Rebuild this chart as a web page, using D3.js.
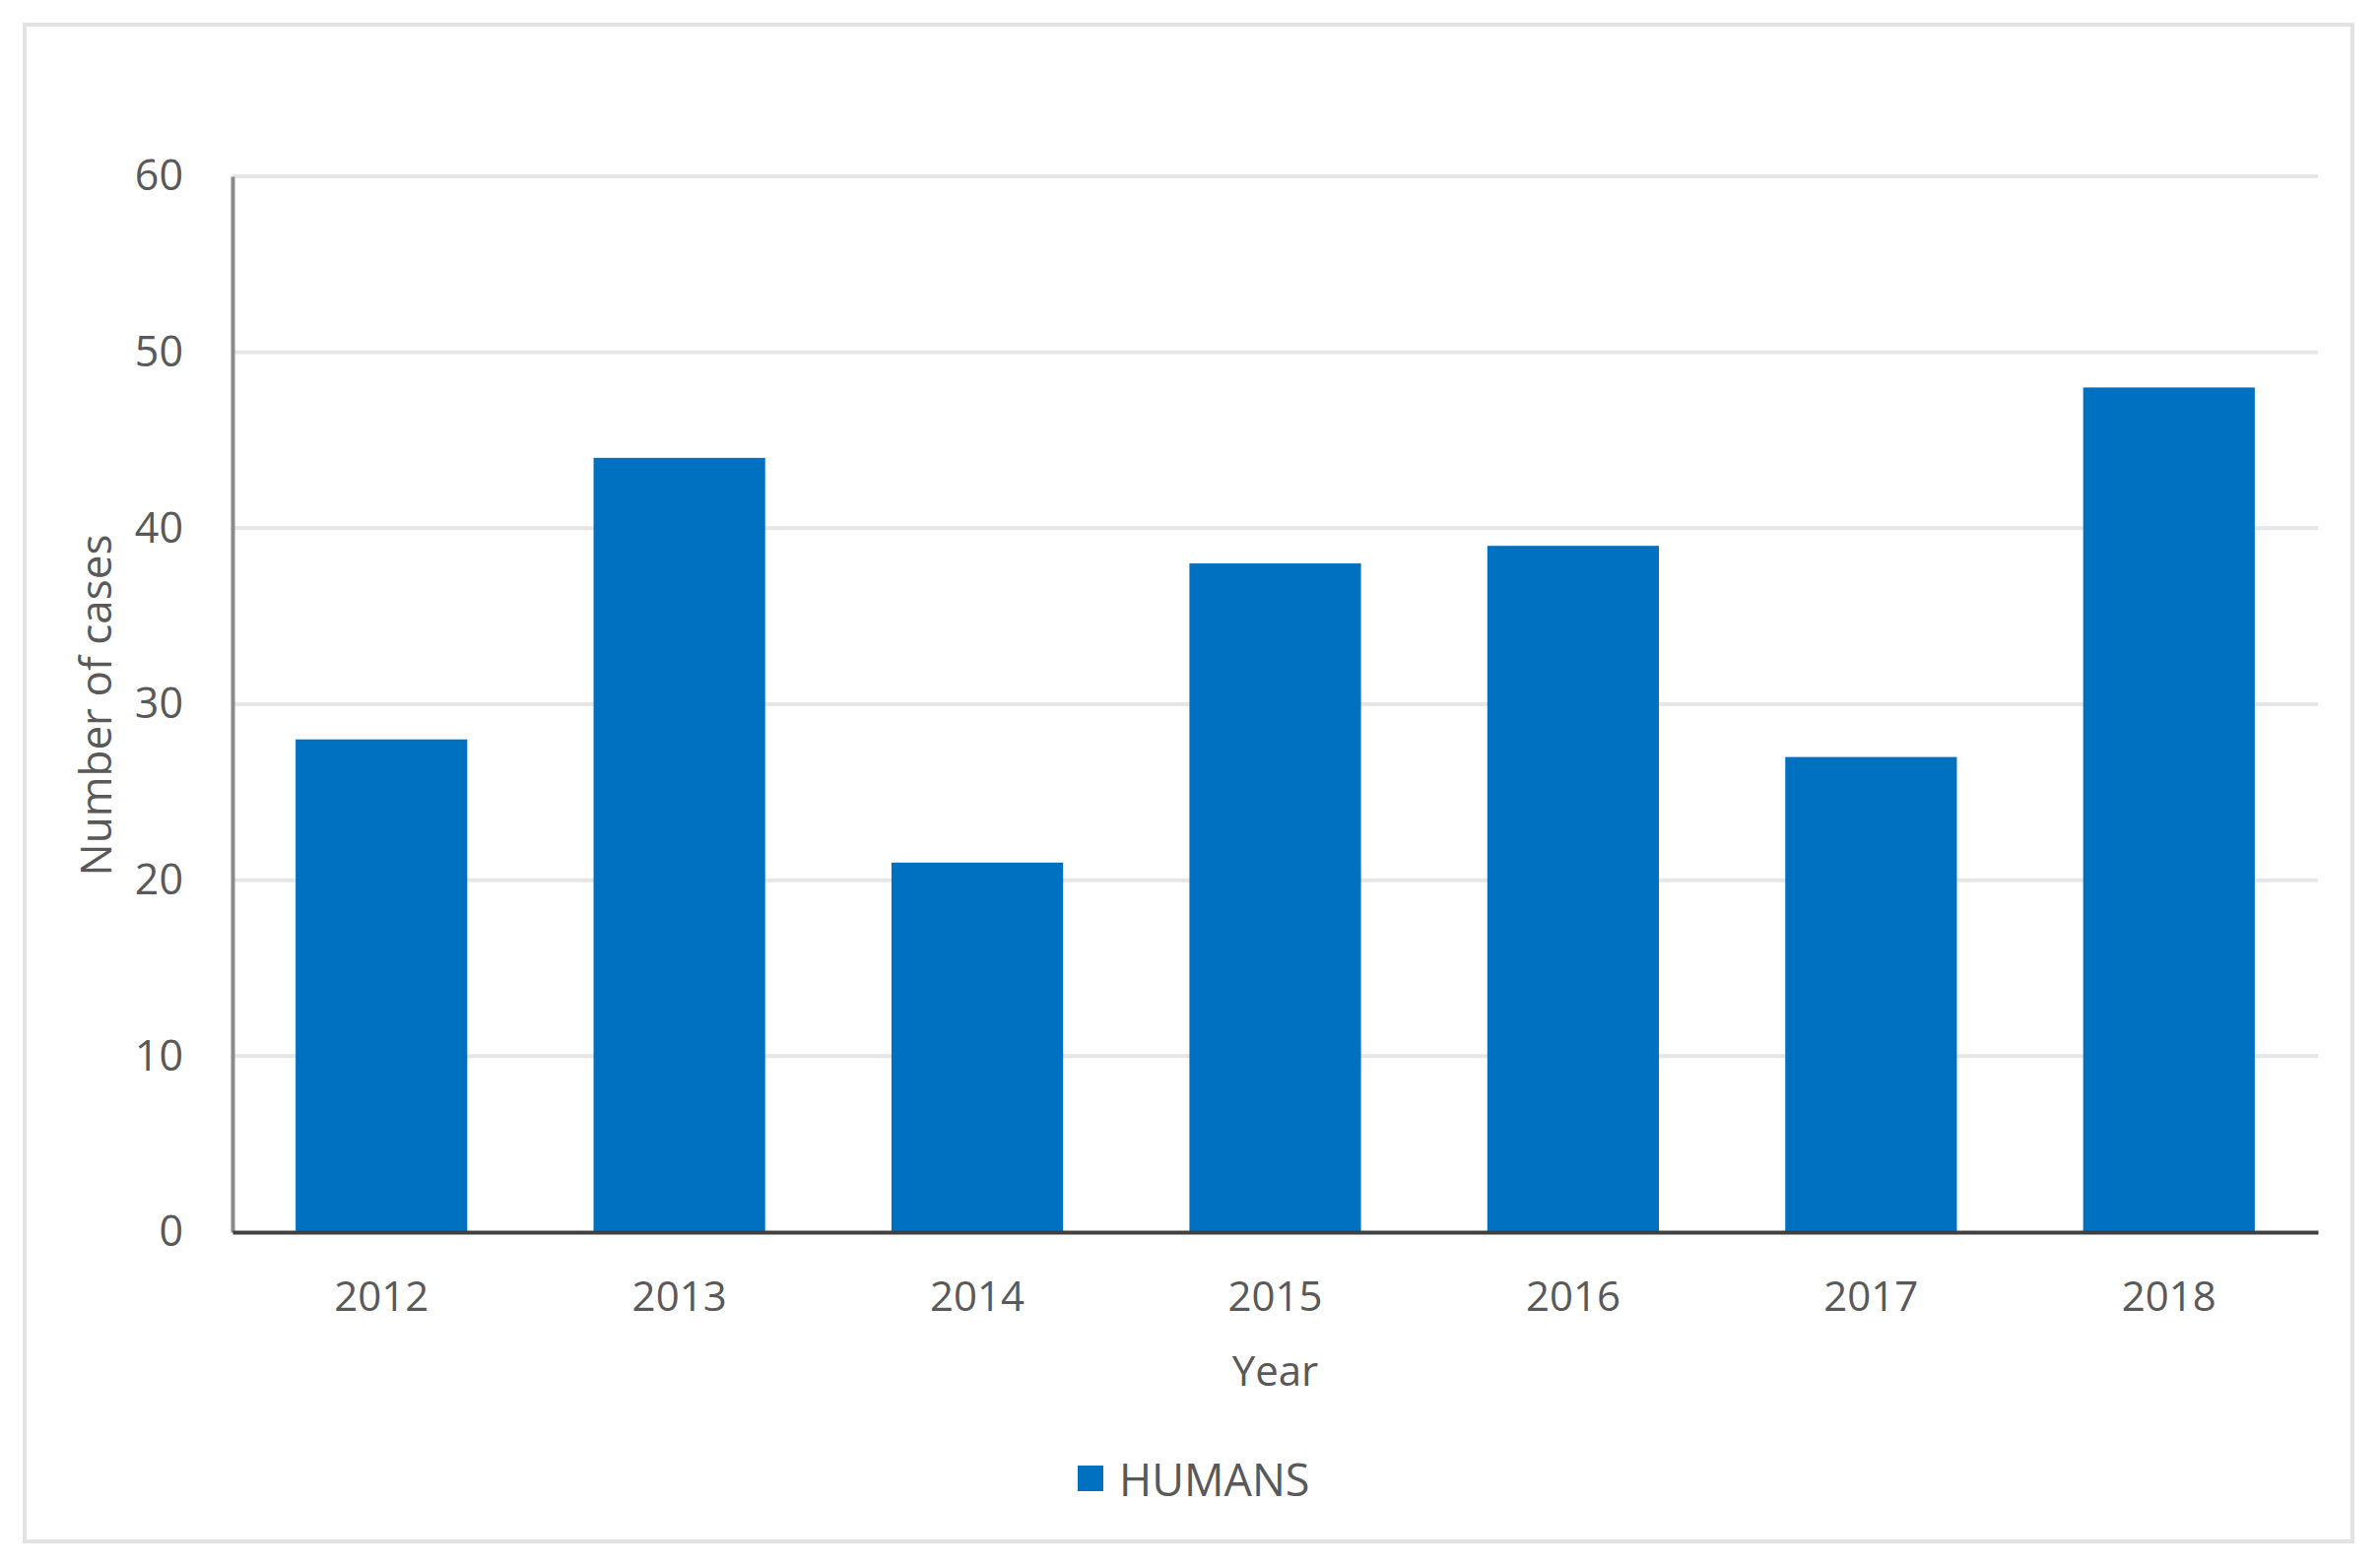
<!DOCTYPE html>
<html>
<head>
<meta charset="utf-8">
<script src="https://cdn.jsdelivr.net/npm/d3@7"></script>
<style>
  html, body { margin: 0; padding: 0; background: #ffffff; }
  svg { display: block; }
  text { font-family: "Open Sans", "DejaVu Sans", sans-serif; fill: #595959; }
</style>
</head>
<body>
<svg id="chart" width="2416" height="1591"></svg>
<script>
const categories = ["2012", "2013", "2014", "2015", "2016", "2017", "2018"];
const humans = [28, 44, 21, 38, 39, 27, 48];
const yTicks = [0, 10, 20, 30, 40, 50, 60];
const seriesName = "HUMANS";
const xTitle = "Year";
const yTitle = "Number of cases";

const W = 2416, H = 1591;
const margin = { left: 236, right: 2416 - 2353, top: 179, bottom: 1591 - 1251 };
const svg = d3.select("#chart");

// outer frame
svg.append("rect")
  .attr("x", 25).attr("y", 25)
  .attr("width", 2388 - 25).attr("height", 1565 - 25)
  .attr("fill", "#ffffff").attr("stroke", "#e2e2e2").attr("stroke-width", 4);

const x = d3.scaleBand()
  .domain(categories)
  .range([margin.left, W - margin.right])
  .paddingInner(0.424)
  .paddingOuter(0.212);

const y = d3.scaleLinear()
  .domain([0, 60])
  .range([H - margin.bottom, margin.top]);

// gridlines
svg.append("g")
  .selectAll("line")
  .data(yTicks.filter(d => d > 0))
  .join("line")
  .attr("x1", margin.left).attr("x2", W - margin.right)
  .attr("y1", d => y(d)).attr("y2", d => y(d))
  .attr("stroke", "#e6e6e6").attr("stroke-width", 4);

// bars
svg.append("g")
  .selectAll("rect")
  .data(humans)
  .join("rect")
  .attr("x", (d, i) => x(categories[i]))
  .attr("y", d => y(d))
  .attr("width", x.bandwidth())
  .attr("height", d => y(0) - y(d))
  .attr("fill", "#0070C0");

// y axis
const yAxis = d3.axisLeft(y).tickValues(yTicks).tickSize(0).tickPadding(50);
const gy = svg.append("g")
  .attr("transform", `translate(${margin.left},0)`)
  .call(yAxis);
gy.select(".domain").attr("stroke", "#8a8a8a").attr("stroke-width", 4);
gy.selectAll("text")
  .style("font-size", "43px")
  .style("fill", "#595959")
  .attr("dy", "0.32em");

// x axis
const xAxis = d3.axisBottom(x).tickSize(0).tickPadding(50);
const gx = svg.append("g")
  .attr("transform", `translate(0,${y(0)})`)
  .call(xAxis);
gx.select(".domain").attr("stroke", "#404040").attr("stroke-width", 4);
gx.selectAll("text")
  .style("font-size", "42px")
  .style("fill", "#595959");

// axis titles
svg.append("text")
  .attr("x", (margin.left + W - margin.right) / 2)
  .attr("y", 1390)
  .attr("text-anchor", "middle")
  .attr("dominant-baseline", "central")
  .style("font-size", "42px")
  .text(xTitle);

svg.append("text")
  .attr("transform", "translate(96,716) rotate(-90)")
  .attr("text-anchor", "middle")
  .attr("dominant-baseline", "central")
  .style("font-size", "44px")
  .text(yTitle);

// legend
const lg = svg.append("g").attr("transform", "translate(1094,1501)");
lg.append("rect")
  .attr("x", 0).attr("y", -13)
  .attr("width", 26).attr("height", 26)
  .attr("fill", "#0070C0");
lg.append("text")
  .attr("x", 42).attr("y", 0)
  .attr("dominant-baseline", "central")
  .style("font-size", "45px")
  .text(seriesName);
</script>
</body>
</html>
